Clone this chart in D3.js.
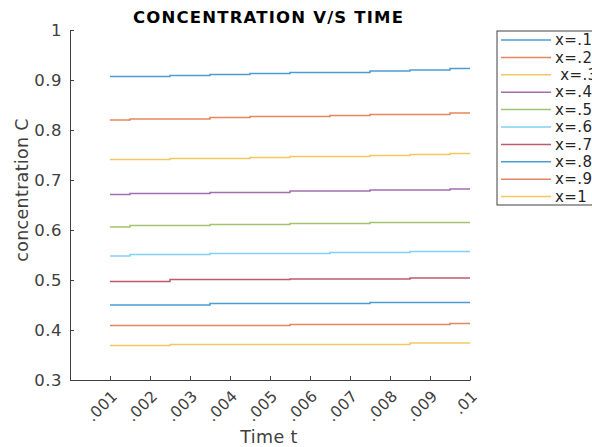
<html>
<head>
<script src='https://d3js.org/d3.v7.min.js'></script>
<style>
  body {margin: 0; background: white;}
  text {font-family: 'DejaVu Sans', sans-serif;}
</style>
</head>
<body>
<svg width=592 height=447></svg>
<script>
// time samples and tick labels
var times = [0.001, 0.002, 0.003, 0.004, 0.005, 0.006, 0.007, 0.008, 0.009, 0.01];
var timeLabels = ['.001', '.002', '.003', '.004', '.005', '.006', '.007', '.008', '.009', '.01'];
var concTicks = [0.3, 0.4, 0.5, 0.6, 0.7, 0.8, 0.9, 1];

// legend names
var names = ['x=.1', 'x=.2', ' x=.3', 'x=.4', 'x=.5', 'x=.6', 'x=.7', 'x=.8', 'x=.9', 'x=1'];

// concentration values
var c01 = [0.907, 0.907, 0.909, 0.911, 0.913, 0.915, 0.915, 0.918, 0.920, 0.923];
var c02 = [0.820, 0.822, 0.822, 0.825, 0.827, 0.827, 0.829, 0.831, 0.831, 0.834];
var c03 = [0.741, 0.741, 0.743, 0.743, 0.745, 0.747, 0.747, 0.749, 0.751, 0.753];
var c04 = [0.671, 0.673, 0.673, 0.675, 0.675, 0.678, 0.678, 0.680, 0.680, 0.682];
var c05 = [0.606, 0.609, 0.609, 0.611, 0.611, 0.613, 0.613, 0.615, 0.615, 0.615];
var c06 = [0.548, 0.551, 0.551, 0.553, 0.553, 0.553, 0.555, 0.555, 0.557, 0.557];
var c07 = [0.497, 0.497, 0.501, 0.501, 0.501, 0.502, 0.502, 0.502, 0.504, 0.504];
var c08 = [0.450, 0.450, 0.450, 0.453, 0.453, 0.453, 0.453, 0.455, 0.455, 0.455];
var c09 = [0.409, 0.409, 0.409, 0.409, 0.409, 0.411, 0.411, 0.411, 0.411, 0.413];
var c10 = [0.369, 0.369, 0.371, 0.371, 0.371, 0.371, 0.371, 0.371, 0.374, 0.374];

var series = [c01, c02, c03, c04, c05, c06, c07, c08, c09, c10];
var colors = ['#0072BD', '#D95319', '#EDB120', '#7E2F8E', '#77AC30',
              '#4DBEEE', '#A2142F', '#0072BD', '#D95319', '#EDB120'];

var svg = d3.select('svg');
var x = d3.scaleLinear().domain([0, 0.01]).range([70, 470]);
var y = d3.scaleLinear().domain([0.3, 1]).range([380, 30]);

// lines
var line = d3.line()
  .x(function(d, i) { return x(times[i]); })
  .y(function(d) { return y(d); })
  .curve(d3.curveStep);

svg.append('g')
  .selectAll('path')
  .data(series)
  .enter()
  .append('path')
  .attr('fill', 'none')
  .attr('stroke', function(d, i) { return colors[i]; })
  .attr('stroke-opacity', 0.7)
  .attr('stroke-width', 1.5)
  .attr('d', line);

// axes
var xAxis = svg.append('g')
  .attr('transform', 'translate(0,380)')
  .call(d3.axisBottom(x).tickValues(times)
    .tickFormat(function(d, i) { return timeLabels[i]; })
    .tickSizeInner(-4).tickSizeOuter(0));
xAxis.selectAll('text')
  .attr('text-anchor', 'end')
  .attr('dy', null)
  .attr('y', 0)
  .attr('transform', 'translate(8,17) rotate(-45)')
  .style('font-size', '15.5px')
  .style('letter-spacing', '0.4px')
  .attr('fill', '#404040');

var yAxis = svg.append('g')
  .attr('transform', 'translate(70,0)')
  .call(d3.axisLeft(y).tickValues(concTicks)
    .tickFormat(function(d) { return d === 1 ? '1' : d3.format('.1f')(d); })
    .tickSizeInner(-4).tickSizeOuter(0).tickPadding(8));
yAxis.selectAll('text')
  .style('font-size', '16.5px')
  .style('letter-spacing', '0.5px')
  .attr('fill', '#404040');

svg.selectAll('.domain, .tick line').attr('stroke', '#404040');

// titles
svg.append('text')
  .attr('x', 268).attr('y', 23)
  .attr('text-anchor', 'middle')
  .attr('textLength', 270)
  .style('font-size', '16.5px').style('font-weight', 'bold')
  .text('CONCENTRATION V/S TIME');

svg.append('text')
  .attr('x', 269).attr('y', 443)
  .attr('text-anchor', 'middle')
  .style('font-size', '17.5px')
  .style('letter-spacing', '0.4px')
  .attr('fill', '#404040')
  .text('Time t');

svg.append('text')
  .attr('transform', 'translate(28,190) rotate(-90)')
  .attr('text-anchor', 'middle')
  .style('font-size', '17.5px')
  .style('letter-spacing', '0.3px')
  .attr('fill', '#404040')
  .text('concentration C');

// legend
var legend = svg.append('g');
legend.append('rect')
  .attr('x', 497).attr('y', 31).attr('width', 110).attr('height', 174)
  .attr('fill', 'white').attr('stroke', '#404040');
var entry = legend.selectAll('g.entry')
  .data(names)
  .enter()
  .append('g')
  .attr('transform', function(d, i) { return 'translate(0,' + (40 + i * 17.4) + ')'; });
entry.append('line')
  .attr('x1', 501).attr('x2', 551)
  .attr('stroke', function(d, i) { return colors[i]; })
  .attr('stroke-opacity', 0.7)
  .attr('stroke-width', 1.5);
entry.append('text')
  .attr('x', 555).attr('y', 0).attr('dy', '0.35em')
  .style('font-size', '15px')
  .style('letter-spacing', '0.4px')
  .style('white-space', 'pre')
  .attr('fill', '#262626')
  .text(function(d) { return d; });
</script>
</body>
</html>
